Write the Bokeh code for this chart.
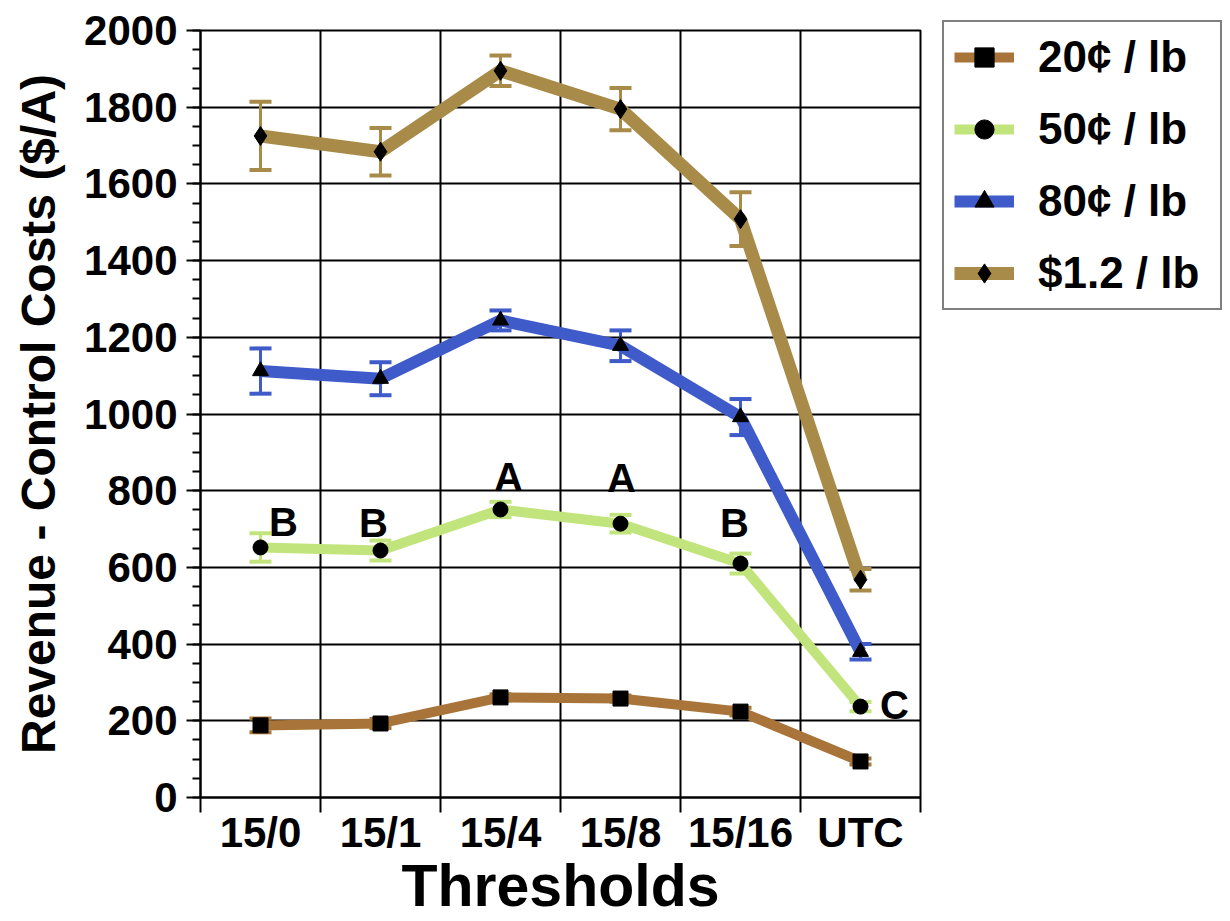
from bokeh.plotting import figure
from bokeh.models import (ColumnDataSource, Range1d, FixedTicker, SingleIntervalTicker,
                          Whisker, TeeHead, Legend, LegendItem)
from bokeh.core.properties import value
from bokeh.embed import file_html
from bokeh.resources import INLINE

# ---------------- data ----------------
categories = ["15/0", "15/1", "15/4", "15/8", "15/16", "UTC"]

labels = ["20\u00a2 / lb", "50\u00a2 / lb", "80\u00a2 / lb", "$1.2 / lb"]

v20 = [188, 193, 261, 258, 224, 94]
e20 = [18, 12, 8, 8, 10, 8]

v50 = [652, 644, 751, 714, 610, 237]
e50 = [37, 26, 20, 23, 26, 12]

v80 = [1112, 1092, 1244, 1178, 992, 380]
e80 = [59, 43, 26, 40, 47, 20]

v120 = [1725, 1684, 1895, 1795, 1508, 568]
e120 = [89, 62, 40, 55, 70, 28]

# significance letters (on the 50c series)
sig_letters = ["B", "B", "A", "A", "B", "C"]
sig_dx = [23, -7, 8, 1, -6, 34]      # pixel offsets (style)
sig_dy = [-25, -28, -32, -46, -41, -2]

# ---------------- style ----------------
FONT = "Liberation Sans"
series = [
    (v20, e20, "#A97439", 10, "square", 15),
    (v50, e50, "#C2E47C", 10, "circle", 15),
    (v80, e80, "#3E5BC9", 12, "triangle", 16),
    (v120, e120, "#A88B48", 13, "diamond", 19),
]

FRAME_H = 767
LEGEND_H = 280

xpos = [i + 0.5 for i in range(len(categories))]

p = figure(frame_width=720, frame_height=FRAME_H, output_backend="svg", toolbar_location=None,
           x_range=Range1d(0, len(categories)), y_range=Range1d(0, 2000),
           min_border_left=200, min_border_right=310, min_border_top=30,
           min_border_bottom=10)
p.background_fill_color = "white"
p.border_fill_color = "white"
p.outline_line_color = "black"
p.outline_line_width = 2

# x axis
p.xaxis.ticker = FixedTicker(ticks=xpos, minor_ticks=list(range(len(categories) + 1)))
p.xaxis.major_label_overrides = {x: c for x, c in zip(xpos, categories)}
p.xaxis.major_tick_line_color = None
p.xaxis.major_tick_out = 0
p.xaxis.major_tick_in = 0
p.xaxis.minor_tick_line_color = "black"
p.xaxis.minor_tick_line_width = 2
p.xaxis.minor_tick_out = 15
p.xaxis.minor_tick_in = 0
p.xaxis.axis_line_width = 2
p.xaxis.axis_line_color = "black"
p.xaxis.major_label_text_font = FONT
p.xaxis.major_label_text_font_style = "bold"
p.xaxis.major_label_text_font_size = "42px"
p.xaxis.major_label_text_color = "black"
p.xaxis.major_label_standoff = -4
p.xaxis.axis_label = "Thresholds"
p.xaxis.axis_label_text_font = FONT
p.xaxis.axis_label_text_font_style = "bold"
p.xaxis.axis_label_text_font_size = "59px"
p.xaxis.axis_label_text_color = "black"
p.xaxis.axis_label_standoff = -6

# y axis
p.yaxis.ticker = SingleIntervalTicker(interval=200, num_minor_ticks=4)
p.yaxis.major_tick_line_color = "black"
p.yaxis.major_tick_line_width = 2
p.yaxis.major_tick_out = 14
p.yaxis.major_tick_in = 0
p.yaxis.minor_tick_line_color = "black"
p.yaxis.minor_tick_line_width = 2
p.yaxis.minor_tick_out = 8
p.yaxis.minor_tick_in = 0
p.yaxis.axis_line_width = 2
p.yaxis.axis_line_color = "black"
p.yaxis.major_label_text_font = FONT
p.yaxis.major_label_text_font_style = "bold"
p.yaxis.major_label_text_font_size = "42px"
p.yaxis.major_label_text_color = "black"
p.yaxis.major_label_standoff = 9
p.yaxis.axis_label = "Revenue - Control Costs ($/A)"
p.yaxis.axis_label_text_font = FONT
p.yaxis.axis_label_text_font_style = "bold"
p.yaxis.axis_label_text_font_size = "48px"
p.yaxis.axis_label_text_color = "black"
p.yaxis.axis_label_standoff = 16

# grids
p.xgrid.ticker = FixedTicker(ticks=list(range(len(categories) + 1)))
p.xgrid.grid_line_color = "black"
p.xgrid.grid_line_width = 2
p.ygrid.grid_line_color = "black"
p.ygrid.grid_line_width = 2

items = []
for (vals, errs, color, lw, marker, msize), lab in zip(series, labels):
    src = ColumnDataSource(dict(x=xpos, y=vals,
                                upper=[v + e for v, e in zip(vals, errs)],
                                lower=[v - e for v, e in zip(vals, errs)]))
    w = Whisker(base="x", upper="upper", lower="lower", source=src, dimension="height",
                line_color=color, line_width=3, level="underlay",
                upper_head=TeeHead(size=22, line_color=color, line_width=4),
                lower_head=TeeHead(size=22, line_color=color, line_width=4))
    p.add_layout(w)
    r_line = p.line("x", "y", source=src, line_color=color, line_width=lw)
    r_mark = p.scatter("x", "y", source=src, marker=marker, size=msize,
                       fill_color="black", line_color="black")
    items.append(LegendItem(label=lab, renderers=[r_line, r_mark]))

# significance letters
sig_src = ColumnDataSource(dict(x=xpos, y=v50, t=sig_letters, dx=sig_dx, dy=sig_dy))
p.text("x", "y", text="t", source=sig_src, x_offset="dx", y_offset="dy",
       text_font=value(FONT), text_font_style="bold", text_font_size="40px",
       text_align="center", text_baseline="middle", text_color="black")

legend = Legend(items=items, location=(22, FRAME_H - LEGEND_H), margin=0,
                label_text_font=FONT, label_text_font_style="bold",
                label_text_font_size="44px", label_text_color="black",
                glyph_width=60, glyph_height=48, label_height=48, label_width=172,
                label_standoff=24, spacing=22, padding=10,
                border_line_color="black", border_line_width=2,
                background_fill_color="white", background_fill_alpha=1.0)
p.add_layout(legend, "right")

open("out.html", "w").write(file_html(p, INLINE))
